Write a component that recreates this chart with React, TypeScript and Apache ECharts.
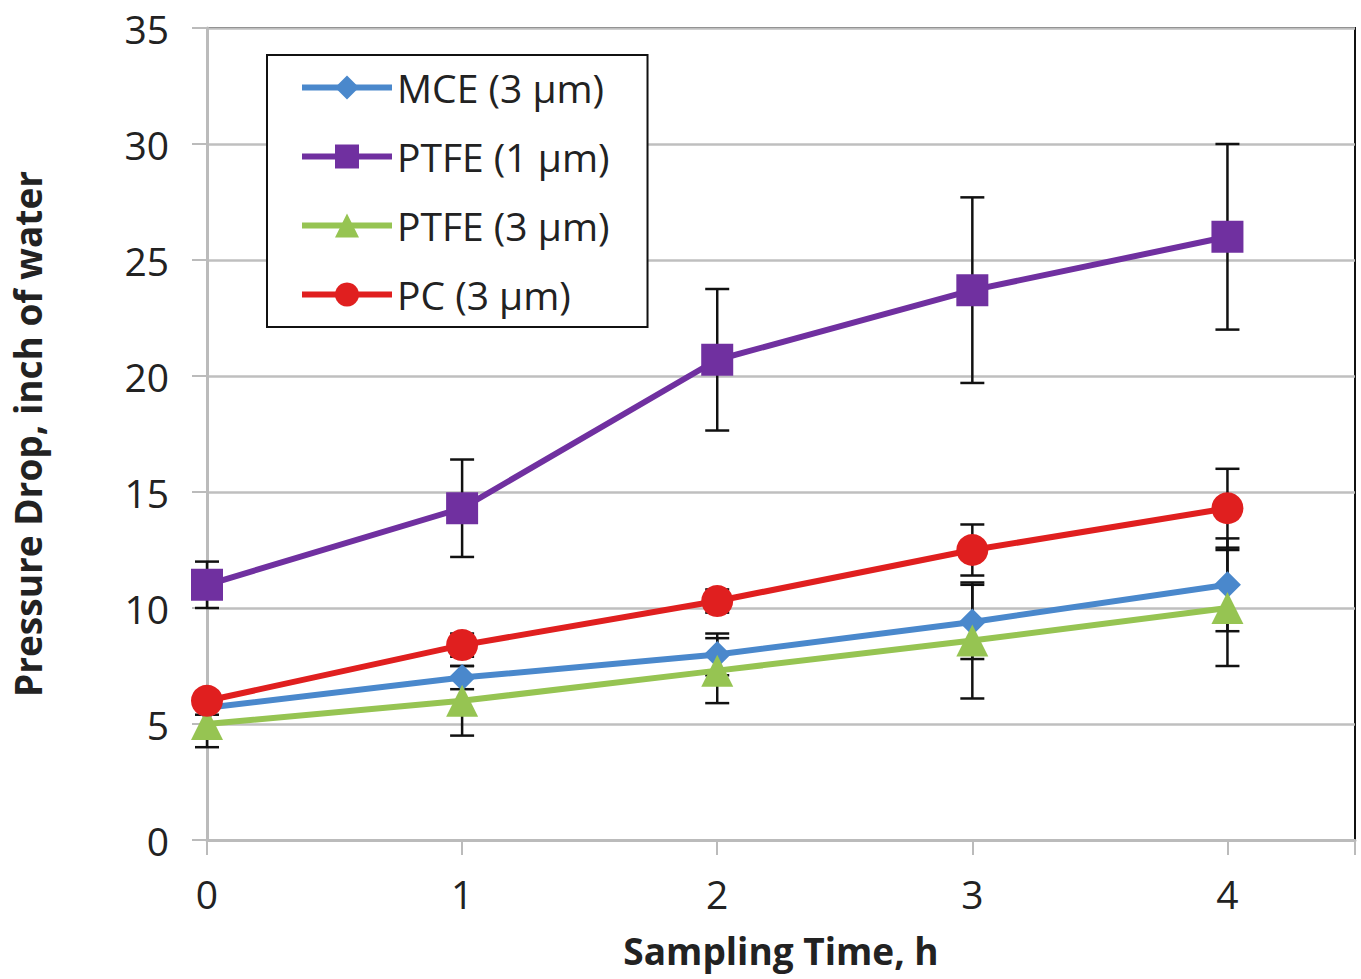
import React, { useEffect, useRef } from "react";
import * as echarts from "echarts";

const times = [0, 1, 2, 3, 4];
const seriesNames = ["MCE (3 µm)", "PTFE (1 µm)", "PTFE (3 µm)", "PC (3 µm)"];
const mce = [5.7, 7.0, 8.0, 9.4, 11.0];
const mceErr = [0.3, 0.5, 0.9, 1.6, 2.0];
const ptfe1 = [11.0, 14.3, 20.7, 23.7, 26.0];
const ptfe1Err = [1.0, 2.1, 3.05, 4.0, 4.0];
const ptfe3 = [5.0, 6.0, 7.3, 8.6, 10.0];
const ptfe3Err = [1.0, 1.5, 1.4, 2.5, 2.5];
const pc = [6.0, 8.4, 10.3, 12.5, 14.3];
const pcErr = [0.3, 0.5, 0.5, 1.1, 1.7];

const colors = ["#4A88CC", "#7030A0", "#96C452", "#E01F1F"];
const symbols = ["diamond", "rect", "triangle", "circle"];
const symbolSizes = [27, 32, 32, 32];
const FONT = "'Open Sans', sans-serif";

export default function App() {
  const ref = useRef<HTMLDivElement>(null);
  useEffect(() => {
    if (!ref.current) return;
    const chart = echarts.init(ref.current, null, { renderer: "svg" });
    const values = [mce, ptfe1, ptfe3, pc];
    const errs = [mceErr, ptfe1Err, ptfe3Err, pcErr];

    const lineSeries = values.map((v, i) => ({
      name: seriesNames[i],
      type: "line",
      data: times.map((t, j) => [t, v[j]]),
      symbol: symbols[i],
      symbolSize: symbolSizes[i],
      lineStyle: { color: colors[i], width: 6 },
      itemStyle: { color: colors[i] },
      z: 3,
    }));

    const errSeries = values.map((v, i) => ({
      name: "err" + i,
      type: "custom",
      data: times.map((t, j) => [t, v[j] - errs[i][j], v[j] + errs[i][j]]),
      encode: { x: 0, y: [1, 2] },
      z: 2,
      silent: true,
      renderItem: (params: any, api: any) => {
        const x = api.value(0);
        const lo = api.value(1);
        const hi = api.value(2);
        const pHi = api.coord([x, hi]);
        const pLo = api.coord([x, lo]);
        const w = 12;
        const st = { stroke: "#111", lineWidth: 2.5 };
        return {
          type: "group",
          children: [
            { type: "line", shape: { x1: pHi[0], y1: pHi[1], x2: pLo[0], y2: pLo[1] }, style: st },
            { type: "line", shape: { x1: pHi[0] - w, y1: pHi[1], x2: pHi[0] + w, y2: pHi[1] }, style: st },
            { type: "line", shape: { x1: pLo[0] - w, y1: pLo[1], x2: pLo[0] + w, y2: pLo[1] }, style: st },
          ],
        };
      },
    }));

    chart.setOption({
      animation: false,
      backgroundColor: "#fff",
      grid: {
        left: 207,
        top: 28,
        right: 6,
        bottom: 139,
        outerBoundsMode: "none",
        containLabel: false,
        show: true,
        borderColor: "#111",
        borderWidth: 2,
        backgroundColor: "transparent",
      },
      legend: {
        data: seriesNames,
        orient: "vertical",
        left: 267,
        top: 55,
        itemWidth: 90,
        itemHeight: 30,
        itemGap: 30,
        padding: [13, 38, 13, 32],
        borderColor: "#111",
        borderWidth: 2,
        backgroundColor: "#fff",
        lineStyle: { width: 6 },
        textStyle: { fontFamily: FONT, fontSize: 39, color: "#222" },
      },
      xAxis: {
        type: "value",
        min: 0,
        max: 4.5,
        interval: 1,
        name: "Sampling Time, h",
        nameLocation: "middle",
        nameGap: 92,
        nameTextStyle: { fontFamily: FONT, fontSize: 37, fontWeight: "bold", color: "#222" },
        axisLine: { show: true, lineStyle: { color: "#BBBBBB", width: 3 } },
        axisTick: { show: true, length: 15, lineStyle: { color: "#BBBBBB", width: 2 } },
        splitLine: { show: false },
        axisLabel: {
          fontFamily: FONT,
          fontSize: 39,
          color: "#222",
          margin: 34,
          formatter: (v: number) => (Number.isInteger(v) ? String(v) : ""),
        },
      },
      yAxis: {
        type: "value",
        min: 0,
        max: 35,
        interval: 5,
        name: "Pressure Drop, inch of water",
        nameLocation: "middle",
        nameGap: 161,
        nameTextStyle: { fontFamily: FONT, fontSize: 37, fontWeight: "bold", color: "#222" },
        axisLine: { show: true, lineStyle: { color: "#BBBBBB", width: 3 } },
        axisTick: { show: true, length: 15, lineStyle: { color: "#BBBBBB", width: 2 } },
        splitLine: { show: true, lineStyle: { color: "#BFBFBF", width: 2.5 } },
        axisLabel: { fontFamily: FONT, fontSize: 39, color: "#222", margin: 38 },
      },
      series: [...errSeries, ...lineSeries],
    });
    return () => chart.dispose();
  }, []);
  return (
    <div
      ref={ref}
      style={{ position: "fixed", left: 0, top: 0, width: 1361, height: 979, background: "#fff" }}
    />
  );
}
